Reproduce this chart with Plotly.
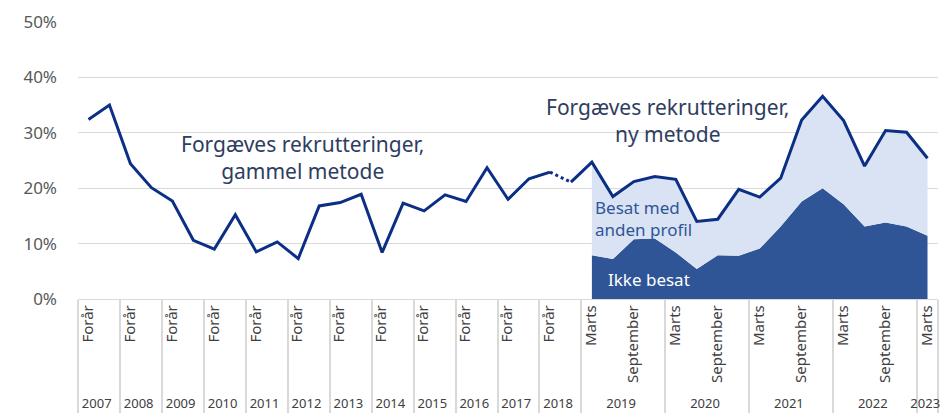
import plotly.graph_objects as go

# ---------------- data ----------------
years_old = [str(y) for y in range(2007, 2019)]          # two observations per year
years_new = ["2019", "2020", "2021", "2022"]               # four observations per year
year_last = "2023"

ZW = "\u200b"
sub_old = ["Forår", ZW]
sub_new = ["Marts", ZW * 2, "September", ZW * 3]
sub_last = ["Marts"]

# Forgæves rekrutteringer, gammel metode (2007 Forår .. 2018 Forår), pct.
old_method = [32.4, 35.0, 24.4, 20.1, 17.7, 10.6, 9.0, 15.2, 8.5, 10.3, 7.3, 16.8,
              17.4, 18.9, 8.4, 17.3, 15.9, 18.8, 17.6, 23.7, 18.0, 21.7, 22.9]
# Forgæves rekrutteringer, ny metode (2018 second obs .. 2023 Marts), pct.
new_method = [21.1, 24.7, 18.5, 21.2, 22.1, 21.6, 14.0, 14.4, 19.8, 18.4, 21.8,
              32.3, 36.6, 32.2, 24.0, 30.4, 30.1, 25.4]
# Ikke besat (2019 Marts .. 2023 Marts), pct.
ikke_besat = [7.9, 7.2, 10.8, 10.9, 8.4, 5.4, 7.9, 7.8, 9.1, 13.1, 17.6, 20.0,
              17.1, 13.1, 13.8, 13.1, 11.4]


def lab(s):
    return s if s.startswith(ZW) else "<span style='font-size:15px'>" + s + "</span>"


# ---------------- categories ----------------
outer, inner = [], []
for y in years_old:
    for s in sub_old:
        outer.append(y); inner.append(lab(s))
for y in years_new:
    for s in sub_new:
        outer.append(y); inner.append(lab(s))
for s in sub_last:
    outer.append(year_last); inner.append(lab(s))

n_old = len(old_method)
x_all = [outer, inner]
x_old = [outer[:n_old], inner[:n_old]]
x_new = [outer[n_old:], inner[n_old:]]
x_area = [outer[n_old + 1:], inner[n_old + 1:]]
x_link = [outer[n_old - 1:n_old + 1], inner[n_old - 1:n_old + 1]]

LINE = "#0B2F84"
DARK = "#2F5597"
LIGHT = "#DAE3F3"
TXT = "#2E3D60"
FONT = "Noto Sans"

fig = go.Figure()
# invisible trace that fixes the category order
fig.add_trace(go.Scatter(x=x_all, y=[None] * len(outer), mode="lines",
                         hoverinfo="skip", showlegend=False))
fig.add_trace(go.Scatter(x=x_area, y=ikke_besat, mode="lines", line=dict(width=0),
                         fill="tozeroy", fillcolor=DARK, hoverinfo="skip", showlegend=False))
fig.add_trace(go.Scatter(x=x_area, y=new_method[1:], mode="lines", line=dict(width=0),
                         fill="tonexty", fillcolor=LIGHT, hoverinfo="skip", showlegend=False))
fig.add_trace(go.Scatter(x=x_old, y=old_method, mode="lines",
                         line=dict(color=LINE, width=3), showlegend=False))
fig.add_trace(go.Scatter(x=x_link, y=[old_method[-1], new_method[0]], mode="lines",
                         line=dict(color=LINE, width=3, dash="dot"), showlegend=False))
fig.add_trace(go.Scatter(x=x_new, y=new_method, mode="lines",
                         line=dict(color=LINE, width=3), showlegend=False))

fig.add_annotation(xref="paper", yref="y", x=0.2605, y=25.6, xanchor="center",
                   text="Forgæves rekrutteringer,<br>gammel metode", showarrow=False,
                   font=dict(family=FONT, size=21, color=TXT), align="center")
fig.add_annotation(xref="paper", yref="y", x=0.686, y=32.3, xanchor="center",
                   text="Forgæves rekrutteringer,<br>ny metode", showarrow=False,
                   font=dict(family=FONT, size=21, color=TXT), align="center")
fig.add_annotation(xref="paper", yref="y", x=0.5988, y=14.6, xanchor="left",
                   text="Besat med<br>anden profil", showarrow=False,
                   font=dict(family=FONT, size=17, color=DARK), align="left")
fig.add_annotation(xref="paper", yref="y", x=0.664, y=3.6, xanchor="center",
                   text="Ikke besat", showarrow=False,
                   font=dict(family=FONT, size=17, color="white"), align="center")

fig.update_layout(
    width=944, height=417,
    margin=dict(l=78, r=6, t=22, b=118),
    paper_bgcolor="white", plot_bgcolor="white",
    font=dict(family=FONT, color="#404040"),
    xaxis=dict(type="multicategory", range=[-0.5, 40.5], tickangle=-90,
               tickfont=dict(size=13, color="#404040"), automargin=False,
               showgrid=False, showline=True, linecolor="#D9D9D9", linewidth=1,
               showdividers=True, dividercolor="#D9D9D9", dividerwidth=2, ticks=""),
    yaxis=dict(range=[0, 50], dtick=10, ticksuffix="%", showgrid=True,
               gridcolor="#D9D9D9", gridwidth=1, zeroline=False, automargin=False,
               tickfont=dict(size=17, color="#595959"), ticklabelstandoff=20),
)

fig.write_html("out.html", config={"displayModeBar": False},
               post_script="document.body.style.margin='0px';")
